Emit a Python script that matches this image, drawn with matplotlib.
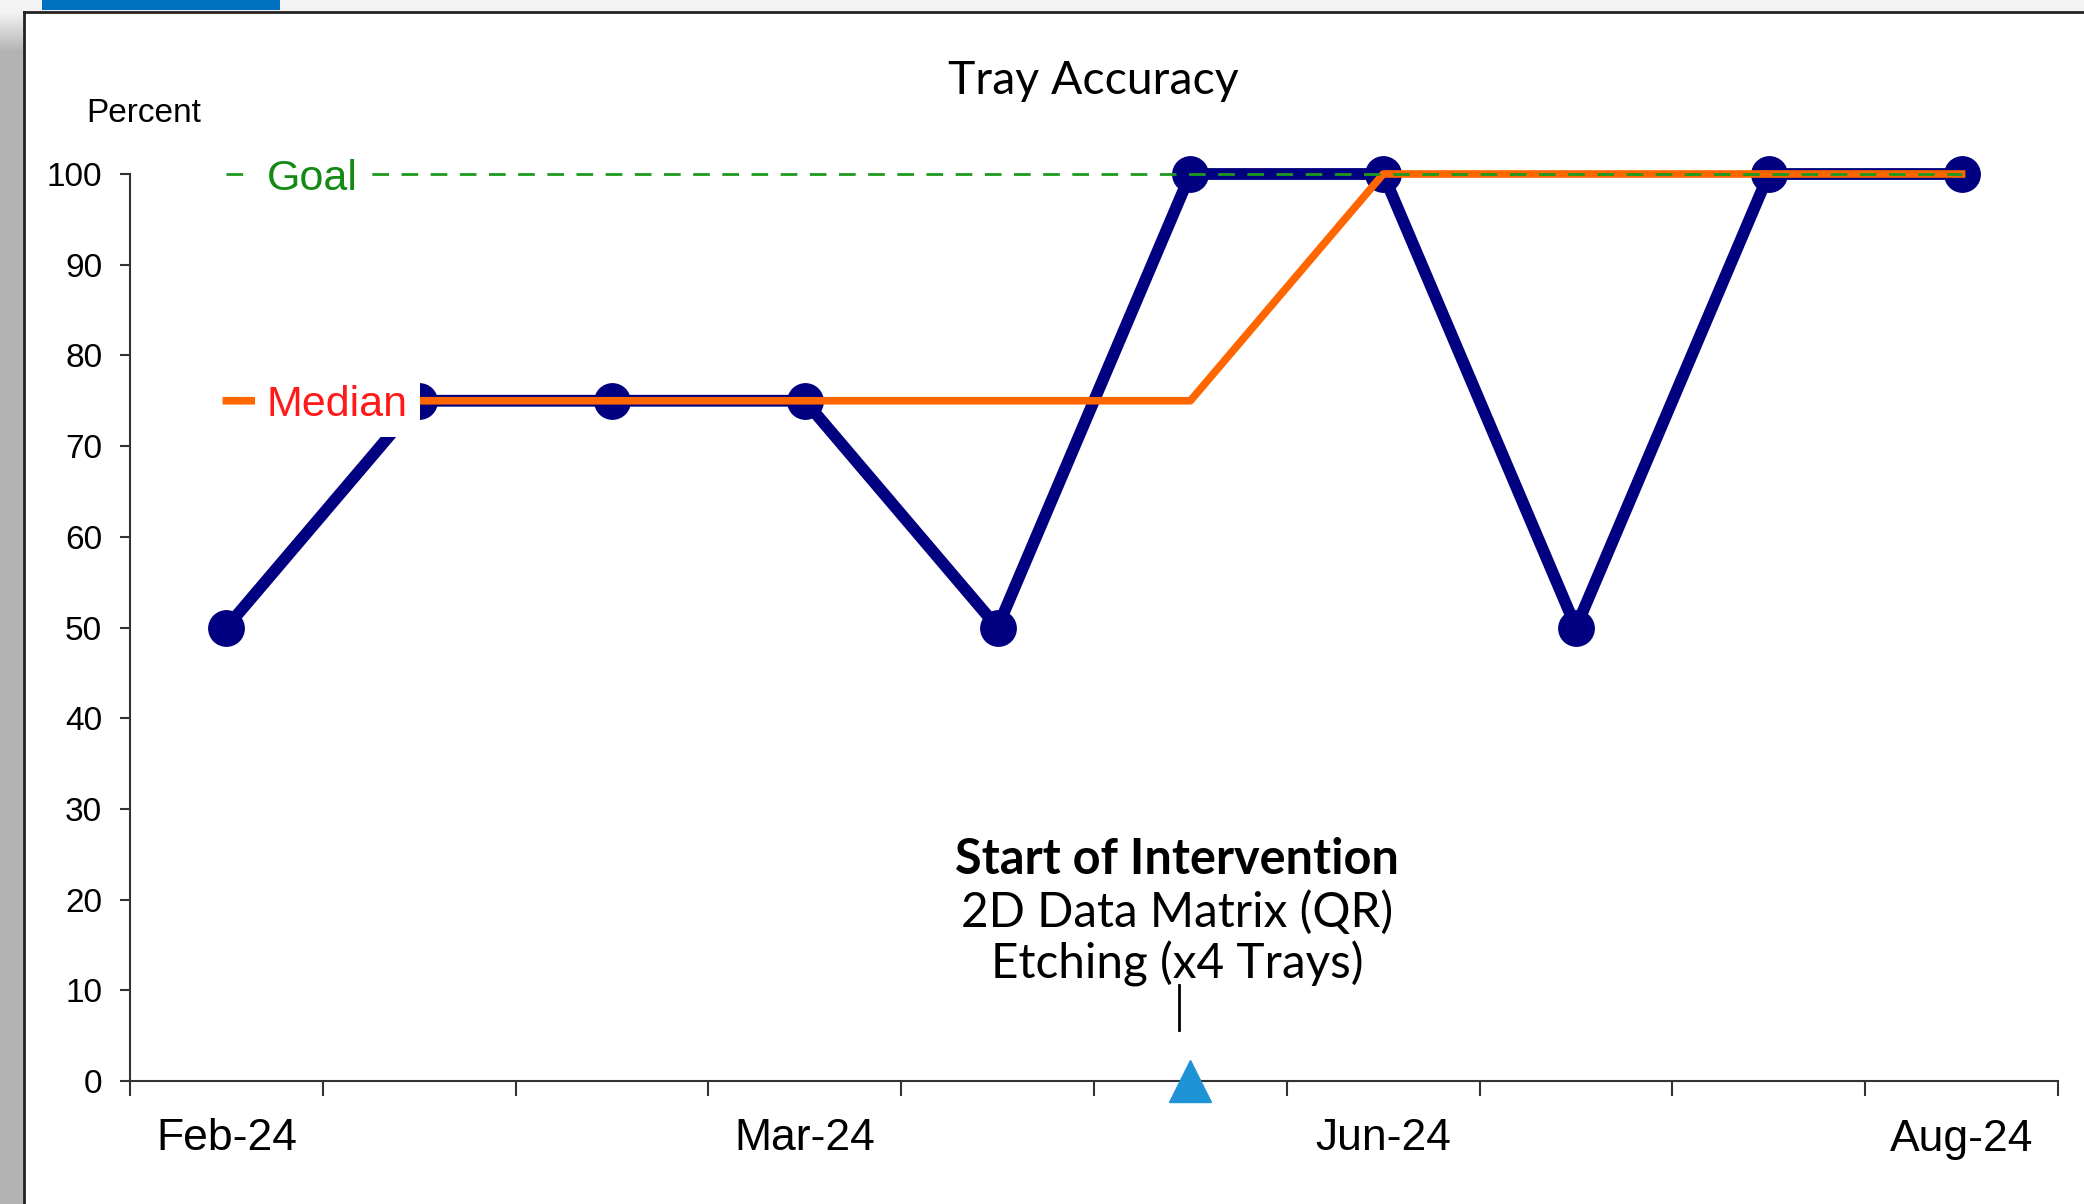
import numpy as np
import matplotlib.pyplot as plt
from matplotlib.patches import Rectangle
from matplotlib.lines import Line2D

months = ["Feb-24", "", "", "Mar-24", "", "", "Jun-24", "", "", "Aug-24"]
accuracy = [50, 75, 75, 75, 50, 100, 100, 50, 100, 100]
median = [75, 75, 75, 75, 75, 75, 100, 100, 100, 100]
goal = [100, 100, 100, 100, 100, 100, 100, 100, 100, 100]
intervention_at = 5
y_ticks = [0, 10, 20, 30, 40, 50, 60, 70, 80, 90, 100]

W, H = 2084, 1204
fig = plt.figure(figsize=(W / 100, H / 100), dpi=100)
fig.patch.set_facecolor("white")

# slide-like frame around the chart
bg = fig.add_axes([0, 0, 1, 1], zorder=-5)
bg.set_xlim(0, W)
bg.set_ylim(H, 0)
bg.axis("off")
bg.add_patch(Rectangle((0, 0), W, 12, color="#f3f3f3", lw=0))
grad = np.linspace(0.95, 0.70, 40).reshape(-1, 1)
bg.imshow(grad, cmap="gray", vmin=0, vmax=1, extent=(0, 24, 52, 12), aspect="auto")
bg.add_patch(Rectangle((0, 0), 24, 12, color="#f3f3f3", lw=0))
bg.add_patch(Rectangle((0, 52), 24, H - 52, color="#b3b3b3", lw=0))
bg.add_patch(Rectangle((42, 0), 238, 10, color="#0070C0", lw=0))
bg.add_line(Line2D([24, 24], [12, H], color="#222222", lw=2))
bg.add_line(Line2D([24, W], [12, 12], color="#222222", lw=2))

ax = fig.add_axes([130 / W, 1 - 1081 / H, (2058 - 130) / W, (1081 - 174) / H])
ax.set_facecolor("none")
x = np.arange(len(accuracy))

ax.plot(x, accuracy, color="#000080", lw=8.5, marker="o", ms=25.5,
        solid_joinstyle="miter", zorder=2, clip_on=False)
ax.plot(x, median, color="#FF6600", lw=5.5, zorder=3, clip_on=False)
ax.plot(x, goal, color="#1E9A1E", lw=2, dashes=(6, 4.5), zorder=4, clip_on=False)

ax.text(0.21, 100, "Goal", color="#138A13", fontsize=31, family="Liberation Sans",
        va="center_baseline", ha="left", zorder=5,
        bbox=dict(boxstyle="square,pad=0.28", fc="white", ec="none"))
ax.text(0.21, 75, "Median", color="#FF1A1A", fontsize=31, family="Liberation Sans",
        va="center_baseline", ha="left", zorder=5,
        bbox=dict(boxstyle="square,pad=0.28", fc="white", ec="none"))

# intervention marker
ax.plot([intervention_at], [0], marker="^", ms=30, color="#1E94D6",
        zorder=6, clip_on=False)
ax.plot([intervention_at - 0.06] * 2, [5.6, 10.6], color="black", lw=2, zorder=6)
ax.text(intervention_at - 0.07, 24.4, "Start of Intervention", family="Lato",
        fontsize=35, fontweight="bold", ha="center", va="center")
ax.text(intervention_at - 0.07, 18.6, "2D Data Matrix (QR)", family="Lato",
        fontsize=34.3, ha="center", va="center")
ax.text(intervention_at - 0.07, 12.9, "Etching (x4 Trays)", family="Lato",
        fontsize=34.3, ha="center", va="center")

ax.set_xlim(-0.5, len(accuracy) - 0.5)
ax.set_ylim(0, 100)
ax.set_yticks(y_ticks)
ax.set_yticklabels([str(v) for v in y_ticks], family="Liberation Sans", fontsize=24)
ax.set_xticks(x)
ax.set_xticklabels(months, family="Liberation Sans", fontsize=32)
ax.set_xticks(np.arange(-0.5, len(accuracy)), minor=True)
ax.tick_params(axis="x", which="major", length=0, pad=27)
ax.tick_params(axis="x", which="minor", length=11, width=1.5, color="#333333")
ax.tick_params(axis="y", length=7, width=1.5, color="#333333", pad=13)
for side in ["top", "right"]:
    ax.spines[side].set_visible(False)
for side in ["left", "bottom"]:
    ax.spines[side].set_linewidth(1.5)
    ax.spines[side].set_color("#333333")

fig.text(1093 / W, 1 - 81 / H, "Tray Accuracy", family="Lato", fontsize=33.4,
         ha="center", va="center")
fig.text(144 / W, 1 - 114 / H, "Percent", family="Liberation Sans", fontsize=24,
         ha="center", va="center")

fig.savefig("out.png", dpi=100)
